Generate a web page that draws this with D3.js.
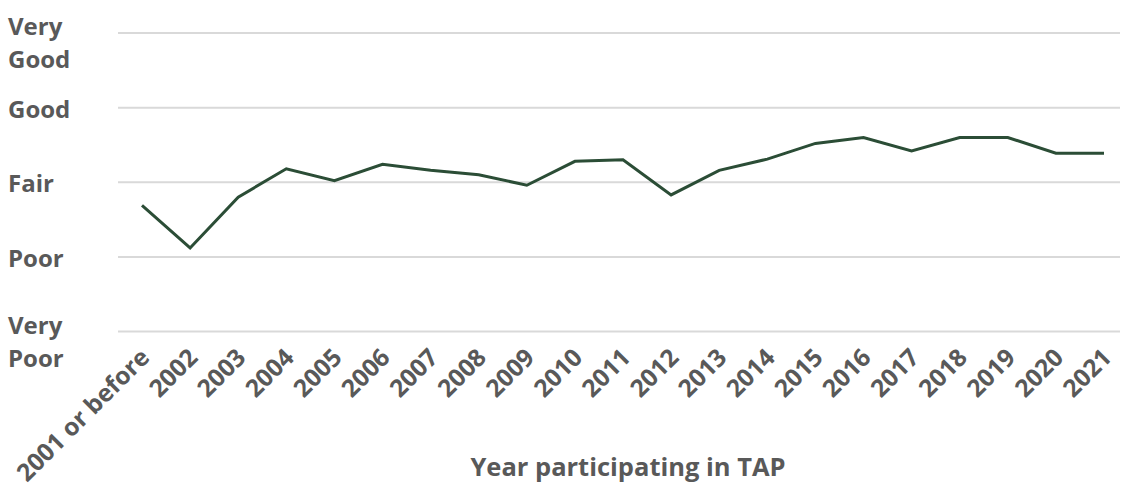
<!DOCTYPE html>
<meta charset='utf-8'>
<html>
  <style>
    body { margin: 0; background: #fff; }
    text { font-family: "Open Sans", Roboto, sans-serif; font-weight: 700; fill: #595959; }
    .grid line { stroke: #d9d9d9; stroke-width: 2px; }
  </style>
  <head>
    <script src="https://cdn.jsdelivr.net/npm/d3@7"></script>
  </head>
  <body>
    <div id="chart"></div>
    <script type="text/javascript">
      // data
      var years = ["2001 or before", "2002", "2003", "2004", "2005", "2006", "2007", "2008", "2009", "2010",
                   "2011", "2012", "2013", "2014", "2015", "2016", "2017", "2018", "2019", "2020", "2021"];
      var ratings = [2.69, 2.12, 2.80, 3.18, 3.02, 3.24, 3.16, 3.10, 2.96, 3.28,
                     3.30, 2.83, 3.16, 3.31, 3.52, 3.60, 3.42, 3.60, 3.60, 3.39, 3.39];
      var levels = [1, 2, 3, 4, 5];
      var levelNames = [["Very", "Poor"], ["Poor"], ["Fair"], ["Good"], ["Very", "Good"]];

      var width = 1121, height = 500;

      var svg = d3.select("#chart").append("svg")
        .attr("width", width)
        .attr("height", height);

      var x = d3.scalePoint().domain(years).range([142, 1104]);
      var y = d3.scaleLinear().domain([1, 5]).range([331.5, 33]);

      // gridlines
      svg.append("g").attr("class", "grid")
        .selectAll("line")
        .data(levels).enter()
        .append("line")
          .attr("x1", 118)
          .attr("x2", 1120)
          .attr("y1", function(d) { return y(d); })
          .attr("y2", function(d) { return y(d); });

      // y labels
      var ylab = svg.append("g").selectAll("text")
        .data(levels).enter()
        .append("text")
          .attr("x", 8)
          .attr("y", function(d, i) {
            return levelNames[i].length > 1 ? y(d) + 2 : y(d) + 10;
          })
          .style("font-size", "24px");

      ylab.selectAll("tspan")
        .data(function(d, i) { return levelNames[i]; })
        .enter().append("tspan")
          .attr("x", 8)
          .attr("dy", function(d, i) { return i == 0 ? 0 : 33; })
          .text(function(d) { return d; });

      // x tick labels
      svg.append("g").selectAll("text")
        .data(years).enter()
        .append("text")
          .attr("transform", function(d) { return "translate(" + (x(d) + 9) + ",359) rotate(-45)"; })
          .attr("text-anchor", "end")
          .style("font-size", "24.5px")
          .text(function(d) { return d; });

      // axis title
      svg.append("text")
        .attr("x", 628)
        .attr("y", 476)
        .attr("text-anchor", "middle")
        .style("font-size", "25.5px")
        .text("Year participating in TAP");

      // the line
      var line = d3.line()
        .x(function(d, i) { return x(years[i]); })
        .y(function(d) { return y(d); });

      svg.append("path")
        .datum(ratings)
        .attr("fill", "none")
        .attr("stroke", "#2b4d36")
        .attr("stroke-width", 3)
        .attr("stroke-linejoin", "miter")
        .attr("d", line);
    </script>
  </body>
</html>
